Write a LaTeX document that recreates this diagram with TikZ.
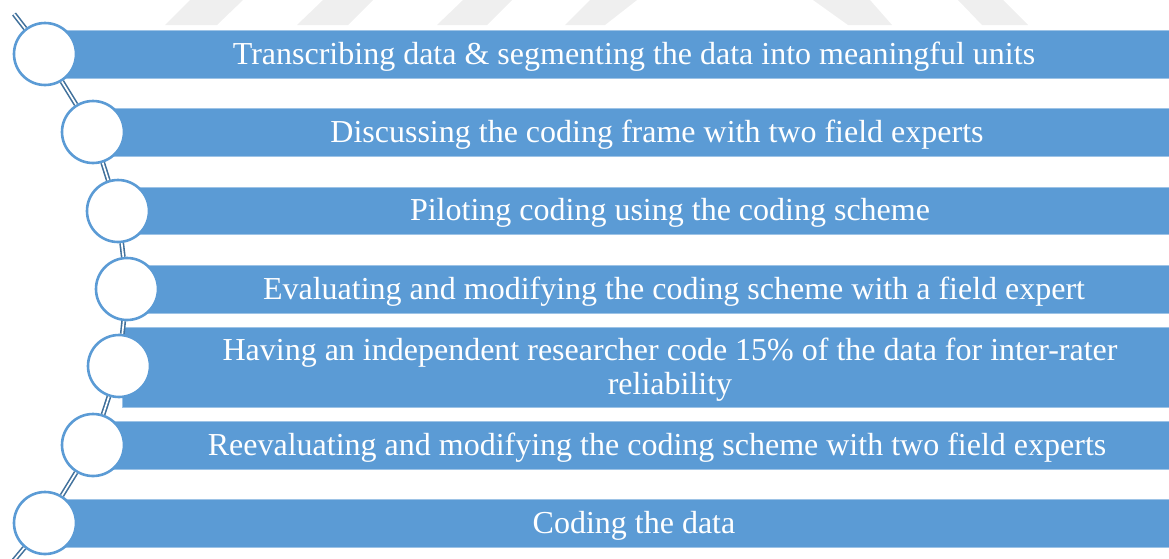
\documentclass[tikz,border=0pt]{standalone}
\usepackage{fontspec}
\setmainfont{Liberation Serif}
\pgfdeclarelayer{background}
\pgfsetlayers{background,main}
\definecolor{barblue}{HTML}{5B9BD5}
\definecolor{barline}{HTML}{9DC3E6}
\definecolor{linkblue}{HTML}{41719C}
\definecolor{markgray}{HTML}{EFEFEF}
\tikzset{
  stepbar/.style={rectangle, fill=barblue, draw=barline, line width=0.7pt,
    inner sep=0pt, anchor=west, minimum height=48pt},
  steplabel/.style={text=white, inner sep=0pt, anchor=base,
    font=\fontsize{32}{34}\selectfont},
  stepdot/.style={circle, fill=white, draw=barblue, line width=2.6pt,
    inner sep=0pt, minimum size=62pt},
  link/.style={draw=linkblue, line width=1.6pt, double=white, double distance=1.7pt}
}
\begin{document}
\begin{tikzpicture}[x=1pt,y=-1pt]
\useasboundingbox (0,0) rectangle (1169,558);

% faint emblem strip along the top edge
\begin{pgfonlayer}{background}
  \fill[markgray] (165,25) -- (217,25) -- (243,0) -- (190,0) -- cycle;
  \fill[markgray] (297,25) -- (348,25) -- (373,0) -- (323,0) -- cycle;
  \fill[markgray] (437,25) -- (487,25) -- (512,0) -- (463,0) -- cycle;
  \fill[markgray] (565,25) -- (605,25) -- (637,0) -- (590,0) -- cycle;
  \fill[markgray] (848,25) -- (892,25) -- (870,0) -- (813,0) -- cycle;
  \fill[markgray] (982,25) -- (1028,25) -- (1003,0) -- (958,0) -- cycle;

  % bars
  \node[stepbar, minimum width=1130pt] (b1) at (45,54) {};
  \node[stepbar, minimum width=1082pt] (b2) at (93,132) {};
  \node[stepbar, minimum width=1057pt, minimum height=47pt] (b3) at (118,210.5) {};
  \node[stepbar, minimum width=1048pt] (b4) at (127,289) {};
  \node[stepbar, minimum width=1053pt, minimum height=80pt] (b5) at (122,367) {};
  \node[stepbar, minimum width=1082pt] (b6) at (93,445) {};
  \node[stepbar, minimum width=1130pt] (b7) at (45,523) {};
\end{pgfonlayer}

% labels
\node[steplabel] (t1) at (634,64) {Transcribing data \& segmenting the data into meaningful units};
\node[steplabel] (t2) at (657,142) {Discussing the coding frame with two field experts};
\node[steplabel] (t3) at (670,220) {Piloting coding using the coding scheme};
\node[steplabel] (t4) at (674,299) {Evaluating and modifying the coding scheme with a field expert};
\node[steplabel, anchor=center, align=center] (t5) at (670,370)
  {Having an independent researcher code 15\% of the data for inter-rater\\reliability};
\node[steplabel] (t6) at (657,455) {Reevaluating and modifying the coding scheme with two field experts};
\node[steplabel] (t7) at (634,533) {Coding the data};

% circles
\node[stepdot] (c1) at (45,54) {};
\node[stepdot] (c2) at (93,132) {};
\node[stepdot] (c3) at (118,211) {};
\node[stepdot] (c4) at (127,289) {};
\node[stepdot] (c5) at (119,366) {};
\node[stepdot] (c6) at (93,445) {};
\node[stepdot] (c7) at (45,523) {};

% chain through the circles
\coordinate (top) at (14,14);
\coordinate (bot) at (10,565);
\draw[link] (top) -- (c1);
\draw[link] (c1) -- (c2);
\draw[link] (c2) -- (c3);
\draw[link] (c3) -- (c4);
\draw[link] (c4) -- (c5);
\draw[link] (c5) -- (c6);
\draw[link] (c6) -- (c7);
\draw[link] (c7) -- (bot);
\end{tikzpicture}
\end{document}
